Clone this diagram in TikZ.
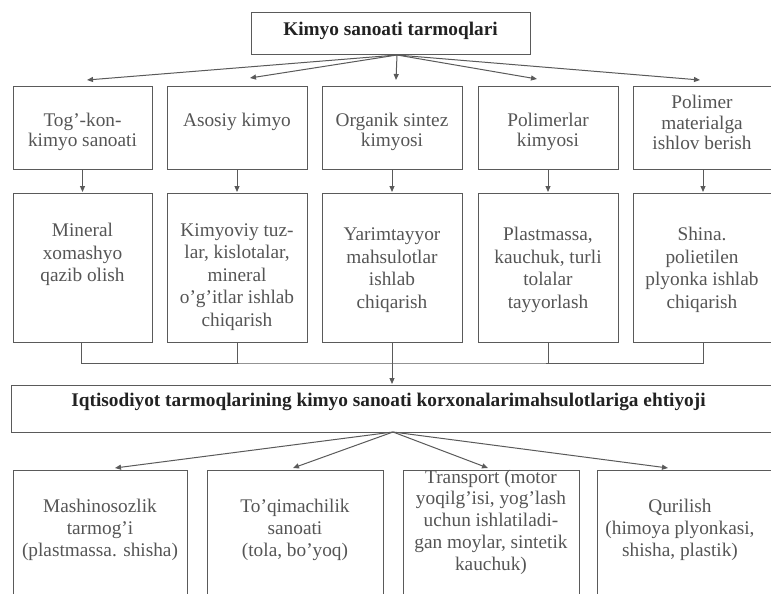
\documentclass[tikz,border=0pt]{standalone}
\usepackage{fontspec}
\setmainfont{Liberation Serif}
\usetikzlibrary{arrows.meta,calc}
\definecolor{linec}{HTML}{5A5A5A}
\definecolor{txtc}{HTML}{555555}
\definecolor{boldc}{HTML}{222222}
\tikzset{
  frame/.style={draw=linec,line width=1pt,inner sep=0pt,outer sep=0pt},
  txta/.style={text=txtc,align=center,inner sep=0pt,font=\fontsize{19.3}{20.5}\selectfont},
  txtb/.style={text=txtc,align=center,inner sep=0pt,font=\fontsize{19.3}{22.5}\selectfont},
  txtc/.style={text=txtc,align=center,inner sep=0pt,font=\fontsize{19.3}{21.8}\selectfont},
  txtbold/.style={text=boldc,align=center,inner sep=0pt,font=\fontsize{19.3}{22}\selectfont\bfseries},
  conn/.style={draw=linec,line width=1pt},
  arr/.style={conn,-{Triangle[length=6pt,width=5pt]}}
}
\begin{document}
\begin{tikzpicture}[x=1pt,y=-1pt]
\useasboundingbox (0,0) rectangle (771,594);
\fill[white] (0,0) rectangle (771,594);
\clip (0,0) rectangle (771,594);

% top box
\node[frame,minimum width=279pt,minimum height=42pt] (top) at (390.5,34) {};
\node[txtbold] (ttop) at (390.5,31) {Kimyo sanoati tarmoqlari};

% row 1
\node[frame,minimum width=139pt,minimum height=83pt] (a1) at (82.5,127.5) {};
\node[frame,minimum width=140pt,minimum height=83pt] (a2) at (237,127.5) {};
\node[frame,minimum width=140pt,minimum height=83pt] (a3) at (392,127.5) {};
\node[frame,minimum width=140pt,minimum height=83pt] (a4) at (548,127.5) {};
\node[frame,minimum width=142pt,minimum height=83pt] (a5) at (704,127.5) {};
\node[txta] (ta1) at (82.5,132) {Tog’-kon-\\kimyo sanoati};
\node[txta] (ta2) at (237,122) {Asosiy kimyo};
\node[txta] (ta3) at (392,132) {Organik sintez\\kimyosi};
\node[txta] (ta4) at (548,132) {Polimerlar\\kimyosi};
\node[txta] (ta5) at (702,122.5) {Polimer\\materialga\\ishlov berish};

% row 2
\node[frame,minimum width=139pt,minimum height=149pt] (c1) at (82.5,267.5) {};
\node[frame,minimum width=140pt,minimum height=149pt] (c2) at (237,267.5) {};
\node[frame,minimum width=140pt,minimum height=149pt] (c3) at (392,267.5) {};
\node[frame,minimum width=140pt,minimum height=149pt] (c4) at (548,267.5) {};
\node[frame,minimum width=142pt,minimum height=149pt] (c5) at (704,267.5) {};
\node[txtb] (tc1) at (82.5,254.5) {Mineral\\xomashyo\\qazib olish};
\node[txtb] (tc2) at (237,277) {Kimyoviy tuz-\\lar, kislotalar,\\mineral\\o’g’itlar ishlab\\chiqarish};
\node[txtb] (tc3) at (392,270) {Yarimtayyor\\mahsulotlar\\ishlab\\chiqarish};
\node[txtb] (tc4) at (548,270) {Plastmassa,\\kauchuk, turli\\tolalar\\tayyorlash};
\node[txtb] (tc5) at (702,270) {Shina.\\polietilen\\plyonka ishlab\\chiqarish};

% wide box
\node[frame,minimum width=769pt,minimum height=47pt] (wide) at (395.5,408.5) {};
\node[txtbold] (twide) at (388.5,402) {Iqtisodiyot tarmoqlarining kimyo sanoati korxonalarimahsulotlariga ehtiyoji};

% bottom row
\node[frame,minimum width=174pt,minimum height=150pt] (d1) at (100,545) {};
\node[frame,minimum width=176pt,minimum height=150pt] (d2) at (295,545) {};
\node[frame,minimum width=176pt,minimum height=150pt] (d3) at (491,545) {};
\node[frame,minimum width=183pt,minimum height=150pt] (d4) at (688.5,545) {};
\node[txtc] (td1) at (100,530) {Mashinosozlik\\tarmog’i\\(plastmassa. shisha)};
\node[txtc] (td2) at (295,530) {To’qimachilik\\sanoati\\(tola, bo’yoq)};
\node[txtc] (td3) at (491,522) {Transport (motor\\yoqilg’isi, yog’lash\\uchun ishlatiladi-\\gan moylar, sintetik\\kauchuk)};
\node[txtc] (td4) at (680,530) {Qurilish\\(himoya plyonkasi,\\shisha, plastik)};

% top fan
\coordinate (tf) at ([xshift=6.5pt]top.south);
\draw[arr] (tf) -- ([xshift=4.5pt,yshift=6pt]a1.north);
\draw[arr] (tf) -- ([xshift=13pt,yshift=8pt]a2.north);
\draw[arr] (tf) -- ([xshift=4pt,yshift=6pt]a3.north);
\draw[arr] (tf) -- ([xshift=-11pt,yshift=7pt]a4.north);
\draw[arr] (tf) -- ([xshift=-4pt,yshift=6pt]a5.north);

% row1 -> row2
\draw[arr,shorten >=1pt] (a1.south) -- (c1.north);
\draw[arr,shorten >=1pt] (a2.south) -- (c2.north);
\draw[arr,shorten >=1pt] (a3.south) -- (c3.north);
\draw[arr,shorten >=1pt] (a4.south) -- (c4.north);
\draw[arr,shorten >=1pt] ([xshift=-1pt]a5.south) -- ([xshift=-1pt]c5.north);

% bracket
\coordinate (br) at (392,363);
\draw[conn] ([xshift=-1.5pt]c1.south) |- (br) -| ([xshift=-1pt]c5.south);
\draw[conn] (c2.south) -- (c2.south |- br);
\draw[conn] (c4.south) -- (c4.south |- br);
\draw[arr,shorten >=1pt] (c3.south) -- (c3.south |- wide.north);

% bottom fan
\coordinate (bf) at ([xshift=-2.5pt]wide.south);
\draw[arr] (bf) -- ([xshift=15pt,yshift=2pt]d1.north);
\draw[arr] (bf) -- ([xshift=-2pt,yshift=2pt]d2.north);
\draw[arr] (bf) -- ([xshift=-3pt,yshift=2pt]d3.north);
\draw[arr] (bf) -- ([xshift=-20.5pt,yshift=2pt]d4.north);
\end{tikzpicture}
\end{document}
